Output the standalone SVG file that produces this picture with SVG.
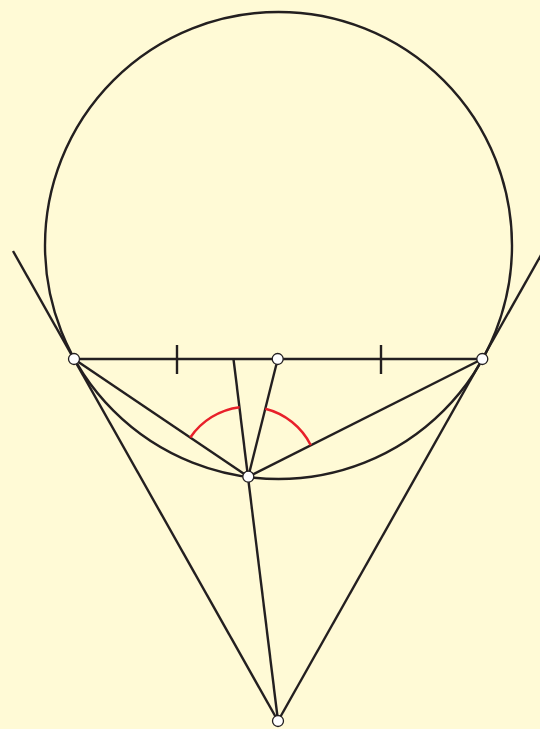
<svg xmlns="http://www.w3.org/2000/svg" width="540" height="729" viewBox="0 0 540 729">
<style>
.ln{stroke:#231f20;stroke-width:2.4;fill:none;stroke-linecap:butt}
.arc{stroke:#e8202a;stroke-width:2.5;fill:none}
.pt{fill:#ffffff;stroke:#231f20;stroke-width:1.3}
</style>
<rect x="0" y="0" width="540" height="729" fill="#fffad6"/>
<g id="connectors">
<circle class="ln" cx="278.5" cy="245.5" r="233.5"/>
<line class="ln" x1="13" y1="251" x2="278" y2="721"/>
<line class="ln" x1="541" y1="255" x2="278" y2="721"/>
<line class="ln" x1="74" y1="359" x2="482" y2="359"/>
<line class="ln" x1="233.5" y1="359" x2="278" y2="721"/>
<line class="ln" x1="248.3" y1="476.7" x2="277.7" y2="359"/>
<line class="ln" x1="248.3" y1="476.7" x2="74" y2="359"/>
<line class="ln" x1="248.3" y1="476.7" x2="482.3" y2="359"/>
<line class="ln" x1="177" y1="345" x2="177" y2="374"/>
<line class="ln" x1="381" y1="345" x2="381" y2="374"/>
<path class="arc" d="M190.3,437.5 A70,70 0 0 1 239.6,407.2"/>
<path class="arc" d="M265.3,408.8 A70,70 0 0 1 310.8,445.2"/>
</g>
<g id="A"><circle class="pt" cx="74" cy="359" r="5.5"/></g>
<g id="M"><circle class="pt" cx="277.7" cy="359" r="5.5"/></g>
<g id="B"><circle class="pt" cx="482.3" cy="359" r="5.5"/></g>
<g id="P"><circle class="pt" cx="248.3" cy="476.7" r="5.5"/></g>
<g id="T"><circle class="pt" cx="278" cy="721" r="5.5"/></g>
</svg>
